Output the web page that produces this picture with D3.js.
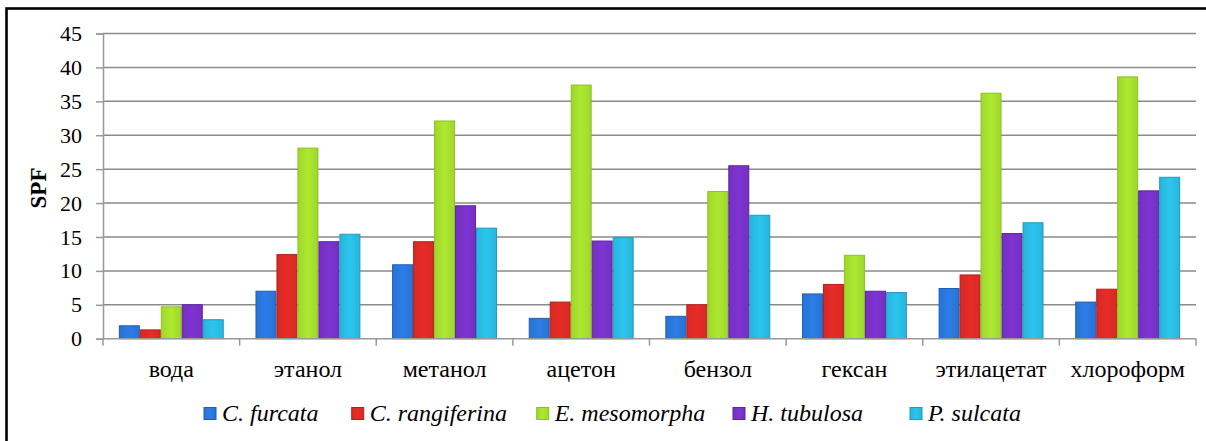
<!DOCTYPE html>
<html><head><meta charset="utf-8">
<script src="https://cdn.jsdelivr.net/npm/d3@7"></script>
<style>html,body{margin:0;padding:0;background:#fff;}svg{display:block;}
svg text{font-family:"Liberation Serif","Times New Roman","DejaVu Serif",serif !important;}</style>
</head><body>
<svg id="c" width="1206" height="441"></svg>
<script>
const categories = ["вода","этанол","метанол","ацетон","бензол","гексан","этилацетат","хлороформ"];
const seriesNames = ["C. furcata","C. rangiferina","E. mesomorpha","H. tubulosa","P. sulcata"];
const cFurcata     = [1.9, 7.0, 10.9, 3.0, 3.3, 6.6, 7.4, 5.4];
const cRangiferina = [1.3, 12.4, 14.3, 5.4, 5.0, 8.0, 9.4, 7.3];
const eMesomorpha  = [4.7, 28.1, 32.1, 37.4, 21.7, 12.3, 36.2, 38.6];
const hTubulosa    = [5.0, 14.3, 19.6, 14.4, 25.5, 7.0, 15.5, 21.8];
const pSulcata     = [2.8, 15.4, 16.3, 14.9, 18.2, 6.8, 17.1, 23.8];
const yTicks = [0,5,10,15,20,25,30,35,40,45];
const colors = ["#2a79e0","#e12b26","#a8e22f","#7a33cc","#2abfe7"];
const strokes = ["#1f5fb3","#b8201c","#8cc21f","#5d24a3","#1e9cc0"];
const seriesValues = [cFurcata,cRangiferina,eMesomorpha,hTubulosa,pSulcata];

const svg = d3.select("#c");
const L = 103, R = 1196, T = 33.5, B = 338.7;

const x0 = d3.scaleBand().domain(categories).range([L, R]).padding(0);
const pad = x0.bandwidth()*0.116;
const x1 = d3.scaleBand().domain(d3.range(seriesNames.length)).range([pad, x0.bandwidth()-pad]).padding(0);
const y = d3.scaleLinear().domain([0,45]).range([B, T]);

const defs = svg.append("defs");
colors.forEach((c,i)=>{
  const g = defs.append("linearGradient").attr("id","g"+i).attr("x1","0").attr("x2","1").attr("y1","0").attr("y2","0");
  g.append("stop").attr("offset","0").attr("stop-color", d3.color(c).darker(0.15));
  g.append("stop").attr("offset","0.5").attr("stop-color", d3.color(c).brighter(0.08));
  g.append("stop").attr("offset","1").attr("stop-color", d3.color(c).darker(0.15));
});

svg.append("rect").attr("x",6.5).attr("y",8.5).attr("width",1220).attr("height",450)
  .attr("fill","none").attr("stroke","#000").attr("stroke-width",2.6);

svg.append("g").selectAll("line").data(yTicks.filter(d=>d>0)).join("line")
  .attr("x1",L).attr("x2",R).attr("y1",d=>y(d)).attr("y2",d=>y(d))
  .attr("stroke","#8a8a8a").attr("stroke-width",1.5);

const ya = svg.append("g").attr("transform",`translate(${L},0)`)
  .call(d3.axisLeft(y).tickValues(yTicks).tickSize(7).tickPadding(14));
ya.attr("font-family",null).attr("font-size",null);
ya.select(".domain").attr("stroke","#999").attr("stroke-width",1.5);
ya.selectAll(".tick line").attr("stroke","#999").attr("stroke-width",1.5);
ya.selectAll(".tick text").style("font-size","22px").attr("fill","#000");

const groups = svg.append("g").selectAll("g").data(categories).join("g")
  .attr("transform",d=>`translate(${x0(d)},0)`);
groups.selectAll("rect").data((d,ci)=>seriesValues.map((s,si)=>({si, v:s[ci]}))).join("rect")
  .attr("x",d=>x1(d.si)+0.5).attr("width",x1.bandwidth()-1)
  .attr("y",d=>y(d.v)).attr("height",d=>y(0)-y(d.v))
  .attr("fill",d=>`url(#g${d.si})`).attr("stroke",d=>strokes[d.si]).attr("stroke-width",1);

const xa = svg.append("g").attr("transform",`translate(0,${B})`)
  .call(d3.axisBottom(x0).tickSize(0).tickPadding(0));
xa.attr("font-family",null).attr("font-size",null);
xa.select(".domain").remove();
xa.selectAll(".tick text").style("font-size","24px").attr("fill","#000").attr("dy",null).attr("y",38);
const bounds = categories.map(c=>x0(c)).concat([R]);
svg.append("line").attr("x1",L).attr("x2",R).attr("y1",B).attr("y2",B).attr("stroke","#999").attr("stroke-width",1.5);
svg.append("g").selectAll("line").data(bounds).join("line")
  .attr("x1",d=>d).attr("x2",d=>d).attr("y1",B).attr("y2",B+7).attr("stroke","#999").attr("stroke-width",1.5);

svg.append("text").attr("transform","translate(46,188) rotate(-90)").attr("text-anchor","middle")
  .style("font-size","23px").style("font-weight","bold").text("SPF");

const legendX = [204, 351.7, 536.7, 733, 910];
const lg = svg.append("g");
seriesNames.forEach((n,i)=>{
  const lx = legendX[i];
  lg.append("rect").attr("x",lx).attr("y",407.5).attr("width",12).attr("height",12)
    .attr("fill",`url(#g${i})`).attr("stroke",strokes[i]).attr("stroke-width",1);
  lg.append("text").attr("x",lx+18).attr("y",421)
    .style("font-size","24px").style("font-style","italic").text(n);
});
</script>
</body></html>
